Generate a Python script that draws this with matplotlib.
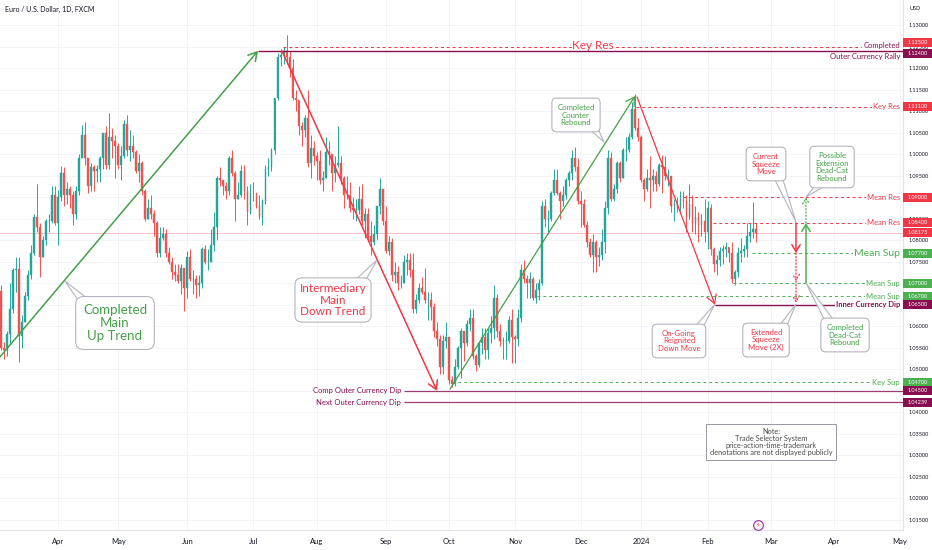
import numpy as np
import matplotlib
matplotlib.use("Agg")
import matplotlib.pyplot as plt
import matplotlib.transforms as mtransforms
from matplotlib.patches import Polygon, Rectangle

plt.rcParams['font.family'] = ['Lato', 'DejaVu Sans']

# ---------------- data (EUR/USD daily, FXCM) ----------------
START = '2023-03-07'
HOLIDAYS = ['2023-12-25', '2024-01-01']
first_open = 1.0682

close = [
    # Mar 2023
    1.0550, 1.0545, 1.0581, 1.0640, 1.0731, 1.0733, 1.0577, 1.0610, 1.0670, 1.0720, 1.0770, 1.0855, 1.0830, 1.0760, 1.0800, 1.0845, 1.0845, 1.0905, 1.0840,
    # Apr
    1.0900, 1.0955, 1.0905, 1.0920, 1.0905, 1.0860, 1.0915, 1.0990, 1.1045, 1.0990, 1.0925, 1.0970, 1.0960, 1.0965, 1.0990, 1.1050, 1.0975, 1.1040, 1.1030, 1.1020,
    # May
    1.0975, 1.0995, 1.1070, 1.1010, 1.1020, 1.1005, 1.0960, 1.0980, 1.0915, 1.0850, 1.0875, 1.0860, 1.0840, 1.0770, 1.0805, 1.0815, 1.0770, 1.0750, 1.0725, 1.0720, 1.0705, 1.0735, 1.0690,
    # Jun
    1.0760, 1.0710, 1.0710, 1.0695, 1.0700, 1.0780, 1.0750, 1.0750, 1.0790, 1.0830, 1.0945, 1.0940, 1.0925, 1.0915, 1.0990, 1.0955, 1.0895, 1.0905, 1.0960, 1.0915, 1.0865, 1.0910,
    # Jul
    1.0910, 1.0880, 1.0855, 1.0890, 1.0965, 1.0970, 1.1010, 1.1130, 1.1225, 1.1230, 1.1240, 1.1225, 1.1200, 1.1130, 1.1125, 1.1065, 1.1055, 1.1085, 1.0980, 1.1015, 1.0995,
    # Aug
    1.0985, 1.0940, 1.0945, 1.1005, 1.1000, 1.0955, 1.0975, 1.0980, 1.0945, 1.0905, 1.0905, 1.0875, 1.0870, 1.0870, 1.0895, 1.0845, 1.0860, 1.0810, 1.0795, 1.0815, 1.0880, 1.0920, 1.0845,
    # Sep
    1.0775, 1.0795, 1.0720, 1.0725, 1.0700, 1.0700, 1.0750, 1.0755, 1.0730, 1.0640, 1.0660, 1.0690, 1.0680, 1.0660, 1.0660, 1.0645, 1.0590, 1.0570, 1.0505, 1.0565, 1.0575,
    # Oct
    1.0475, 1.0465, 1.0505, 1.0550, 1.0590, 1.0560, 1.0605, 1.0620, 1.0530, 1.0510, 1.0560, 1.0575, 1.0545, 1.0585, 1.0595, 1.0665, 1.0590, 1.0565, 1.0565, 1.0565, 1.0615, 1.0575,
    # Nov
    1.0570, 1.0620, 1.0730, 1.0710, 1.0700, 1.0710, 1.0665, 1.0685, 1.0700, 1.0880, 1.0850, 1.0850, 1.0910, 1.0940, 1.0910, 1.0890, 1.0905, 1.0940, 1.0955, 1.0990, 1.0970, 1.0890,
    # Dec
    1.0885, 1.0835, 1.0795, 1.0765, 1.0795, 1.0760, 1.0765, 1.0795, 1.0875, 1.0990, 1.0895, 1.0920, 1.0980, 1.0945, 1.1010, 1.1010, 1.1040, 1.1105, 1.1060, 1.1040,
    # Jan 2024
    1.0940, 1.0920, 1.0945, 1.0940, 1.0950, 1.0930, 1.0975, 1.0970, 1.0950, 1.0950, 1.0880, 1.0885, 1.0875, 1.0895, 1.0890, 1.0855, 1.0885, 1.0840, 1.0855, 1.0835, 1.0845, 1.0820,
    # Feb
    1.0875, 1.0780, 1.0745, 1.0755, 1.0775, 1.0780, 1.0785, 1.0770, 1.0710, 1.0725, 1.0770, 1.0775, 1.0780, 1.0810, 1.0820, 1.0825, 1.08175,
]

high = [
    1.0695, 1.0564, 1.0590, 1.0700, 1.0736, 1.0760, 1.0760, 1.0626, 1.0680, 1.0730, 1.0790, 1.0860, 1.0930, 1.0840, 1.0810, 1.0850, 1.0860, 1.0925, 1.0925,
    1.0917, 1.0973, 1.0970, 1.0935, 1.0925, 1.0915, 1.0925, 1.1000, 1.1068, 1.1075, 1.0990, 1.0980, 1.0975, 1.0975, 1.0995, 1.1050, 1.1065, 1.1095, 1.1060, 1.1045,
    1.1025, 1.1020, 1.1080, 1.1092, 1.1055, 1.1045, 1.1010, 1.1000, 1.0985, 1.0920, 1.0895, 1.0905, 1.0870, 1.0845, 1.0830, 1.0830, 1.0825, 1.0785, 1.0760, 1.0745, 1.0745, 1.0745, 1.0735,
    1.0775, 1.0780, 1.0730, 1.0720, 1.0720, 1.0785, 1.0790, 1.0780, 1.0825, 1.0865, 1.0950, 1.0970, 1.0940, 1.0935, 1.0995, 1.1010, 1.0960, 1.0935, 1.0975, 1.0975, 1.0925, 1.0930,
    1.0935, 1.0905, 1.0905, 1.0895, 1.0975, 1.0990, 1.1015, 1.1130, 1.1235, 1.1245, 1.1250, 1.1276, 1.1240, 1.1220, 1.1150, 1.1125, 1.1075, 1.1090, 1.1150, 1.1045, 1.1030,
    1.1005, 1.1010, 1.0960, 1.1040, 1.1030, 1.1000, 1.0995, 1.1065, 1.0995, 1.0950, 1.0950, 1.0935, 1.0900, 1.0895, 1.0925, 1.0930, 1.0875, 1.0875, 1.0845, 1.0835, 1.0880, 1.0945, 1.0920,
    1.0880, 1.0810, 1.0805, 1.0750, 1.0740, 1.0720, 1.0765, 1.0770, 1.0770, 1.0770, 1.0675, 1.0700, 1.0715, 1.0735, 1.0680, 1.0680, 1.0655, 1.0610, 1.0580, 1.0580, 1.0610,
    1.0575, 1.0485, 1.0525, 1.0555, 1.0595, 1.0575, 1.0615, 1.0640, 1.0640, 1.0535, 1.0565, 1.0595, 1.0595, 1.0595, 1.0625, 1.0695, 1.0675, 1.0605, 1.0575, 1.0590, 1.0625, 1.0640,
    1.0580, 1.0640, 1.0745, 1.0755, 1.0720, 1.0725, 1.0715, 1.0700, 1.0710, 1.0890, 1.0895, 1.0870, 1.0915, 1.0965, 1.0965, 1.0915, 1.0925, 1.0945, 1.0960, 1.1010, 1.1017, 1.0990,
    1.0915, 1.0895, 1.0845, 1.0805, 1.0815, 1.0800, 1.0785, 1.0825, 1.0890, 1.1010, 1.1005, 1.0930, 1.0985, 1.0985, 1.1015, 1.1040, 1.1050, 1.1120, 1.1140, 1.1085,
    1.1045, 1.0945, 1.0965, 1.0995, 1.0965, 1.0960, 1.0980, 1.0998, 1.0995, 1.0965, 1.0950, 1.0895, 1.0900, 1.0915, 1.0915, 1.0905, 1.0930, 1.0905, 1.0880, 1.0865, 1.0860, 1.0895,
    1.0890, 1.0885, 1.0785, 1.0765, 1.0785, 1.0790, 1.0795, 1.0785, 1.0795, 1.0730, 1.0785, 1.0805, 1.0790, 1.0840, 1.0840, 1.0888, 1.0840,
]

low = [
    1.0545, 1.0524, 1.0530, 1.0560, 1.0630, 1.0680, 1.0516, 1.0550, 1.0610, 1.0660, 1.0710, 1.0765, 1.0820, 1.0715, 1.0760, 1.0790, 1.0820, 1.0840, 1.0835,
    1.0788, 1.0890, 1.0880, 1.0885, 1.0875, 1.0835, 1.0850, 1.0905, 1.0990, 1.0975, 1.0910, 1.0915, 1.0915, 1.0935, 1.0935, 1.0965, 1.0965, 1.0965, 1.0990, 1.0945,
    1.0965, 1.0940, 1.0990, 1.0995, 1.0985, 1.0990, 1.0955, 1.0935, 1.0905, 1.0845, 1.0850, 1.0850, 1.0810, 1.0760, 1.0760, 1.0800, 1.0760, 1.0745, 1.0710, 1.0705, 1.0700, 1.0675, 1.0635,
    1.0665, 1.0705, 1.0675, 1.0665, 1.0670, 1.0690, 1.0745, 1.0730, 1.0750, 1.0775, 1.0800, 1.0925, 1.0905, 1.0895, 1.0905, 1.0950, 1.0845, 1.0895, 1.0900, 1.0895, 1.0835, 1.0860,
    1.0890, 1.0875, 1.0850, 1.0835, 1.0885, 1.0950, 1.0960, 1.1000, 1.1125, 1.1205, 1.1210, 1.1210, 1.1180, 1.1125, 1.1100, 1.1045, 1.1020, 1.1040, 1.0970, 1.0945, 1.0975,
    1.0940, 1.0930, 1.0915, 1.0945, 1.0975, 1.0915, 1.0935, 1.0970, 1.0930, 1.0875, 1.0895, 1.0865, 1.0850, 1.0845, 1.0860, 1.0835, 1.0805, 1.0800, 1.0765, 1.0790, 1.0800, 1.0860, 1.0835,
    1.0770, 1.0765, 1.0705, 1.0700, 1.0685, 1.0690, 1.0700, 1.0720, 1.0715, 1.0630, 1.0630, 1.0655, 1.0675, 1.0655, 1.0615, 1.0615, 1.0575, 1.0555, 1.0490, 1.0490, 1.0550,
    1.0465, 1.0458, 1.0462, 1.0500, 1.0480, 1.0520, 1.0555, 1.0590, 1.0525, 1.0495, 1.0505, 1.0535, 1.0525, 1.0525, 1.0560, 1.0570, 1.0575, 1.0555, 1.0525, 1.0525, 1.0560, 1.0515,
    1.0515, 1.0555, 1.0610, 1.0700, 1.0665, 1.0665, 1.0660, 1.0655, 1.0660, 1.0695, 1.0830, 1.0815, 1.0845, 1.0905, 1.0905, 1.0850, 1.0880, 1.0895, 1.0925, 1.0940, 1.0960, 1.0885,
    1.0830, 1.0830, 1.0785, 1.0760, 1.0725, 1.0725, 1.0740, 1.0755, 1.0770, 1.0860, 1.0890, 1.0890, 1.0910, 1.0935, 1.0945, 1.0985, 1.1005, 1.1035, 1.1055, 1.1030,
    1.0935, 1.0890, 1.0915, 1.0875, 1.0915, 1.0915, 1.0925, 1.0910, 1.0940, 1.0925, 1.0865, 1.0845, 1.0865, 1.0865, 1.0875, 1.0820, 1.0850, 1.0820, 1.0815, 1.0795, 1.0810, 1.0795,
    1.0780, 1.0765, 1.0725, 1.0720, 1.0740, 1.0745, 1.0760, 1.0750, 1.0700, 1.0695, 1.0715, 1.0750, 1.0760, 1.0760, 1.0795, 1.0805, 1.0795,
]

month_dates = ['2023-04-03', '2023-05-01', '2023-06-01', '2023-07-03', '2023-08-01', '2023-09-01',
               '2023-10-02', '2023-11-01', '2023-12-01', '2024-01-02', '2024-02-01', '2024-03-01',
               '2024-04-01', '2024-05-01']
month_labels = ['Apr', 'May', 'Jun', 'Jul', 'Aug', 'Sep', 'Oct', 'Nov', 'Dec', '2024', 'Feb', 'Mar', 'Apr', 'May']
price_ticks = [round(1.015 + 0.005 * k, 3) for k in range(24)]

# marked levels: (price, label box colour)
marked_prices = [1.125, 1.124, 1.111, 1.090, 1.084, 1.08175, 1.077, 1.070, 1.067, 1.065, 1.047, 1.045, 1.04239]

# ---------------- styling ----------------
UP, DN = '#26a69a', '#ef5350'
RED, GRN, MAG = '#f23645', '#4caf50', '#880e4f'
TGRN = '#43a047'
TXT = '#131722'
BOXEDGE = '#b2b5be'

fig = plt.figure(figsize=(9.32, 5.5), dpi=100)
fig.patch.set_facecolor('white')
W_PX, H_PX = 903, 530
ax = fig.add_axes([0, 20 / 550, W_PX / 932, H_PX / 550])

xl = (19 + (0 - 58) / 3.007, 19 + (W_PX - 58) / 3.007)
yl = (1.13 - (H_PX - 25) / 4304, 1.13 + 25 / 4304)
ax.set_xlim(*xl)
ax.set_ylim(*yl)


def D(px, py):
    return (xl[0] + px / W_PX * (xl[1] - xl[0]), yl[1] - py / H_PX * (yl[1] - yl[0]))


def DX(px):
    return D(px, 0)[0]


# ---------------- candles ----------------
c = np.array(close)
n = len(c)
o = np.r_[first_open, c[:-1]]
h = np.maximum(np.array(high[:n]), np.maximum(o, c))
l = np.minimum(np.array(low[:n]), np.minimum(o, c))
idx = np.arange(n)
cols = np.where(c >= o, UP, DN)
ax.vlines(idx, l, h, colors=cols, lw=0.7, zorder=3)
ax.bar(idx, c - o, bottom=o, width=0.62, color=cols, edgecolor=cols, linewidth=0.3, zorder=3)

# ---------------- axes ----------------
month_pos = np.busday_count(START, month_dates, holidays=HOLIDAYS)
ax.set_xticks(month_pos)
ax.set_xticklabels(month_labels, fontsize=5.5, color=TXT)
ax.tick_params(axis='x', length=0, pad=6)
ax.yaxis.tick_right()
ax.set_yticks(price_ticks)
ax.set_yticklabels([f'{p:.5f}' for p in price_ticks], fontsize=4.0, color=TXT)
ax.tick_params(axis='y', length=0, pad=4)
ax.grid(True, color='#f0f3fa', lw=0.6)
ax.set_axisbelow(True)
for s in ['top', 'left']:
    ax.spines[s].set_visible(False)
for s in ['right', 'bottom']:
    ax.spines[s].set_color('#e0e3eb')
    ax.spines[s].set_linewidth(0.8)

fig.text(5 / 932, 1 - 9 / 550, 'Euro / U.S. Dollar, 1D, FXCM', fontsize=5, color=TXT, va='center')
fig.text(910 / 932, 1 - 9 / 550, 'USD', fontsize=4, color=TXT, va='center')

# ---------------- level lines ----------------
DASH = (0, (3, 3))
white = dict(facecolor='white', edgecolor='none', pad=0.6)

ax.hlines(1.125, DX(283), DX(900), color=RED, lw=0.7, ls=DASH, zorder=4)
ax.text(DX(593), 1.1252, 'Key Res', color=RED, fontsize=8.5, ha='center', va='center', zorder=4.5,
        bbox=dict(facecolor='white', edgecolor='none', pad=0.3))
ax.text(DX(900), 1.1252, 'Completed', color=MAG, fontsize=5.5, ha='right', va='center', zorder=4.5, bbox=white)
ax.hlines(1.124, DX(258), DX(W_PX), color=MAG, lw=1.0, zorder=5)
ax.text(DX(900), 1.1236, 'Outer Currency Rally', color=MAG, fontsize=5.5, ha='right', va='top', zorder=5)

for p, x0, lab, col, fs in [(1.111, 636, 'Key Res', RED, 5.5),
                           (1.090, 683, 'Mean Res', RED, 5.5),
                           (1.084, 713, 'Mean Res', RED, 5.5),
                           (1.077, 752, 'Mean Sup', GRN, 7.5),
                           (1.070, 733, 'Mean Sup', GRN, 5.5),
                           (1.067, 537, 'Mean Sup', GRN, 5.5),
                           (1.047, 452, 'Key Sup', GRN, 5.5)]:
    ax.hlines(p, DX(x0), DX(900), color=col, lw=0.7, ls=DASH, zorder=4)
    ax.text(DX(900), p, lab, color=col, fontsize=fs, ha='right', va='center', zorder=4.5, bbox=white)

ax.axhline(1.08175, color=RED, lw=0.6, alpha=0.35, zorder=2)

ax.hlines(1.065, DX(715), DX(900), color=MAG, lw=1.0, zorder=5)
ax.text(DX(900), 1.065, 'Inner Currency Dip', color=MAG, fontsize=5.5, fontweight='bold', ha='right',
        va='center', zorder=5.5, bbox=white)

for p, lab in [(1.045, 'Comp Outer Currency Dip'), (1.04239, 'Next Outer Currency Dip')]:
    ax.hlines(p, DX(404), DX(W_PX), color=MAG, lw=0.9, alpha=0.8, zorder=5)
    ax.text(DX(401), p, lab, color=MAG, fontsize=5.5, ha='right', va='center', zorder=5)

# ---------------- trend arrows ----------------
def arrow(x0, y0, x1, y1, col, lw=1.1, ls='-', hl=0.6, hw=0.35):
    ax.annotate('', xy=(x1, y1), xytext=(x0, y0), zorder=6,
                arrowprops=dict(arrowstyle=f'->,head_length={hl},head_width={hw}', color=col, lw=lw,
                                linestyle=ls, shrinkA=0, shrinkB=0))


arrow(xl[0], 1.0529, DX(258), 1.1240, TGRN)
arrow(DX(282), 1.1240, DX(437), 1.0450, RED)
arrow(DX(450), 1.0454, DX(635), 1.1135, TGRN, lw=0.9)
arrow(DX(637), 1.1133, DX(715), 1.0650, RED, lw=0.9)

# squeeze arrows
arrow(DX(796), 1.084, DX(796), 1.077, RED, lw=1.1, hl=0.5, hw=0.3)
arrow(DX(796), 1.077, DX(796), 1.0705, RED, lw=0.9, ls=':', hl=0.4, hw=0.25)
arrow(DX(796), 1.0705, DX(796), 1.0655, RED, lw=0.9, ls=':', hl=0.4, hw=0.25)
arrow(DX(806), 1.070, DX(806), 1.084, GRN, lw=1.1, hl=0.5, hw=0.3)
arrow(DX(806), 1.084, DX(806), 1.0900, GRN, lw=0.9, ls=':', hl=0.4, hw=0.25)

# ---------------- callouts ----------------
def callout(text, center, target, bases, col, fs, pad=0.7, ls=1.15):
    poly = Polygon([D(*bases[0]), D(*target), D(*bases[1])], closed=True, facecolor='white',
                   edgecolor=BOXEDGE, lw=0.8, zorder=7)
    ax.add_patch(poly)
    cx, cy = D(*center)
    ax.text(cx, cy, text, color=col, fontsize=fs, ha='center', va='center', multialignment='center',
            linespacing=ls, zorder=8,
            bbox=dict(boxstyle=f'round,pad={pad},rounding_size=0.6', facecolor='white', edgecolor=BOXEDGE, lw=0.8))


callout('Completed\nMain\nUp Trend', (115, 323), (65, 281), [(80, 303), (93, 303)], TGRN, 9.5, pad=0.55, ls=1.12)
callout('Intermediary\nMain\nDown Trend', (333, 300), (377, 260), [(352, 283), (362, 287)], RED, 8.5, pad=0.4, ls=1.1)
callout('Completed\nCounter\nRebound', (576, 115), (604, 142), [(588, 128), (595, 122)], TGRN, 5.6)
callout('Current\nSqueeze\nMove', (766, 164), (796, 222), [(773, 176), (780, 170)], RED, 5.6)
callout('Possible\nExtension\nDead-Cat\nRebound', (832, 167), (806, 197), [(818, 182), (825, 186)], TGRN, 5.6)
callout('On-Going\nReignited\nDown Move', (679, 341), (715, 304), [(692, 330), (699, 335)], RED, 5.6)
callout('Extended\nSqueeze\nMove (2X)', (766, 340), (796, 304), [(776, 330), (783, 335)], RED, 5.6)
callout('Completed\nDead-Cat\nRebound', (845, 335), (806, 283), [(828, 327), (835, 322)], TGRN, 5.6)

nx, ny = D(771, 442)
ax.text(nx, ny, 'Note:\nTrade Selector System\nprice-action-time-trademark\ndenotations are not displayed publicly',
        color='#4a4a4a', fontsize=5.3, ha='center', va='center', multialignment='center', linespacing=1.05, zorder=8,
        bbox=dict(boxstyle='square,pad=0.45', facecolor='white', edgecolor='#9598a1', lw=0.7))

# small event icon
ix, iy = D(758, 525)
ax.plot(ix, iy, marker='o', ms=7, mfc='white', mec='#9c27b0', mew=0.8, clip_on=False, zorder=9)
ax.text(ix, iy, '\u26a1', fontsize=4.5, color='#e91e63', ha='center', va='center', zorder=10,
        family=['DejaVu Sans'])

# ---------------- price labels on axis ----------------
blend = mtransforms.blended_transform_factory(ax.transAxes, ax.transData)
label_cols = [RED, MAG, RED, RED, RED, RED, GRN, GRN, GRN, MAG, GRN, MAG, MAG]
label_shift_px = [-4, 3, 0, 0, 0, 0, 0, 0, 0, 0, 0, 0, 0]
hbox = 9 / 4304
for p, colr, sh in zip(marked_prices, label_cols, label_shift_px):
    yc = p - sh / 4304
    ax.add_patch(Rectangle((1.0, yc - hbox / 2), 29 / W_PX, hbox, transform=blend, facecolor=colr,
                           edgecolor='none', clip_on=False, zorder=20))
    ax.text(1.0 + 14.5 / W_PX, yc, f'{p:.5f}', transform=blend, color='white', fontsize=4.0,
            ha='center', va='center', zorder=21, clip_on=False)

fig.savefig('out.png', dpi=100)
